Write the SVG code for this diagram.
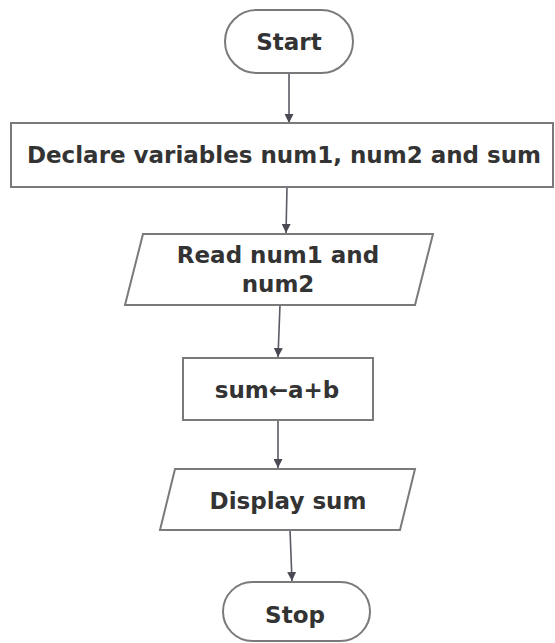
<svg xmlns="http://www.w3.org/2000/svg" width="555" height="643" viewBox="0 0 555 643">
<style>
.shape{fill:#fff;stroke:#7a7a7a;stroke-width:2}
.lbl{font-family:"DejaVu Sans",Verdana,sans-serif;font-weight:bold;font-size:23px;fill:#333;text-anchor:middle}
.conn{stroke:#5a5a66;stroke-width:1.6;fill:none;marker-end:url(#ah)}
</style>
<defs>
<marker id="ah" viewBox="0 0 10 10" refX="10" refY="5" markerWidth="9" markerHeight="9" markerUnits="userSpaceOnUse" orient="auto">
<path d="M0,0 L10,5 L0,10 z" fill="#4a4a55"/>
</marker>
</defs>
<rect width="555" height="643" fill="#fff"/>
<g id="connectors">
<line class="conn" x1="289" y1="73" x2="289" y2="123"/>
<line class="conn" x1="287" y1="187" x2="286" y2="233"/>
<line class="conn" x1="280" y1="305" x2="278" y2="357"/>
<line class="conn" x1="278" y1="420" x2="278" y2="468"/>
<line class="conn" x1="290" y1="530" x2="292" y2="581"/>
</g>
<g id="start">
<rect class="shape" x="225" y="10" width="128" height="63" rx="31.5"/>
<text class="lbl" x="289" y="50">Start</text>
</g>
<g id="declare">
<rect class="shape" x="11" y="123" width="542" height="64"/>
<text class="lbl" x="284" y="163">Declare variables num1, num2 and sum</text>
</g>
<g id="read">
<polygon class="shape" points="143,234 433,234 415,305 125,305"/>
<text class="lbl" x="278" y="263">Read num1 and</text>
<text class="lbl" x="278" y="292">num2</text>
</g>
<g id="sum">
<rect class="shape" x="183" y="358" width="190" height="62"/>
<text class="lbl" x="277" y="398">sum←a+b</text>
</g>
<g id="display">
<polygon class="shape" points="175,469 415,469 400,530 160,530"/>
<text class="lbl" x="288" y="509">Display sum</text>
</g>
<g id="stop">
<rect class="shape" x="223" y="582" width="147" height="59" rx="29.5"/>
<text class="lbl" x="295" y="623">Stop</text>
</g>
</svg>
